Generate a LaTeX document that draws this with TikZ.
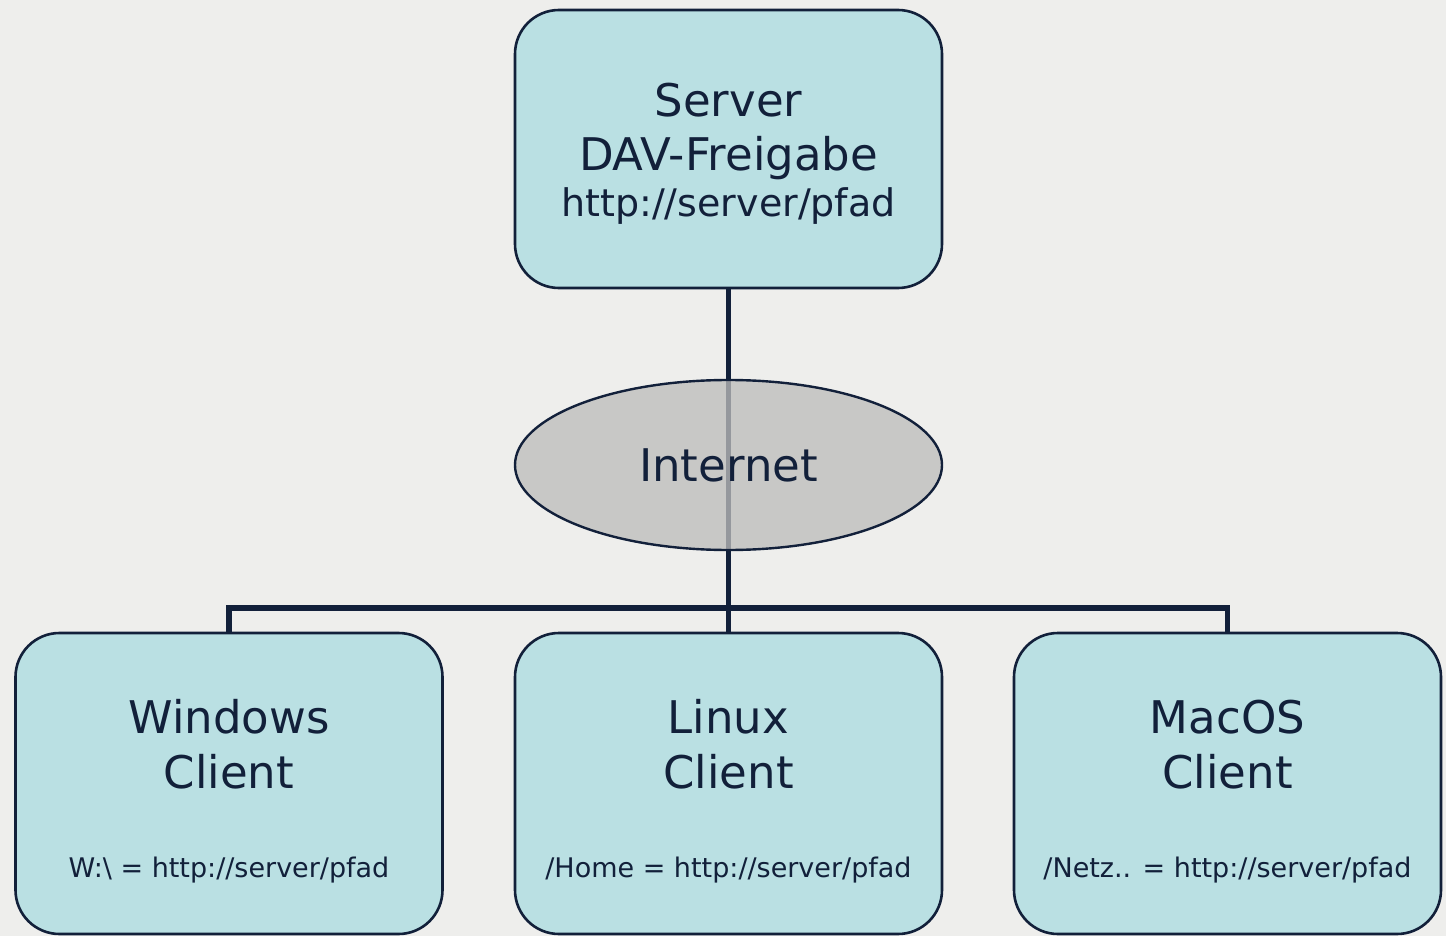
\documentclass[tikz,border=0pt]{standalone}
\usepackage{fontspec}
\setmainfont{DejaVu Sans}
\usetikzlibrary{shapes.geometric}
\definecolor{bgc}{RGB}{238,238,236}
\definecolor{boxc}{RGB}{186,224,227}
\definecolor{navy}{RGB}{18,32,58}
\definecolor{netc}{RGB}{189,189,187}
\pgfdeclarelayer{canvas}
\pgfdeclarelayer{back}
\pgfsetlayers{canvas,back,main}
\begin{document}
\begin{tikzpicture}[x=0.5pt,y=-0.5pt,
  boxstyle/.style={draw=navy,line width=1.3pt,fill=boxc,rounded corners=22pt,
    rectangle,inner sep=0pt,minimum width=213.5pt},
  bigtxt/.style={text=navy,anchor=base,inner sep=0pt,font=\fontsize{22.5}{27}\selectfont},
  midtxt/.style={text=navy,anchor=base,inner sep=0pt,font=\fontsize{19}{23}\selectfont},
  smalltxt/.style={text=navy,anchor=base,inner sep=0pt,font=\fontsize{13.5}{16}\selectfont},
  wire/.style={draw=navy,line width=2.6pt}]
\begin{pgfonlayer}{canvas}
\fill[bgc] (0,0) rectangle (1446,936);
\end{pgfonlayer}
\useasboundingbox (0,0) rectangle (1446,936);

\node[boxstyle,minimum height=139pt] (server) at (728.5,149) {};
\node[bigtxt] (t1) at (728.5,117) {Server};
\node[bigtxt] (t2) at (728.5,171) {DAV-Freigabe};
\node[midtxt] (t3) at (728.5,217) {http://server/pfad};

\node[boxstyle,minimum height=150.5pt] (win) at (229,783.5) {};
\node[boxstyle,minimum height=150.5pt] (lin) at (728.5,783.5) {};
\node[boxstyle,minimum height=150.5pt] (mac) at (1227.5,783.5) {};

\node[bigtxt] (w1) at (229,733) {Windows};
\node[bigtxt] (w2) at (229,788) {Client};
\node[smalltxt] (w3) at (229,877) {W:\textbackslash{} = http://server/pfad};
\node[bigtxt] (l1) at (728.5,733) {Linux};
\node[bigtxt] (l2) at (728.5,788) {Client};
\node[smalltxt] (l3) at (728.5,877) {/Home = http://server/pfad};
\node[bigtxt] (m1) at (1227.5,733) {MacOS};
\node[bigtxt] (m2) at (1227.5,788) {Client};
\node[smalltxt] (m3) at (1227.5,877) {/Netz.. = http://server/pfad};

\coordinate (bus) at (728.5,608);
\begin{pgfonlayer}{back}
\draw[wire] (server.south) -- (lin.north);
\draw[wire] (win.north) |- (bus) -| (mac.north);
\end{pgfonlayer}

\node[ellipse,draw=navy,line width=1.2pt,fill=netc,fill opacity=0.77,text opacity=1,
  minimum width=213.5pt,minimum height=85pt,inner sep=0pt,text=navy,
  font=\fontsize{22.5}{27}\selectfont] (inet) at (728.5,465) {Internet};
\end{tikzpicture}
\end{document}
